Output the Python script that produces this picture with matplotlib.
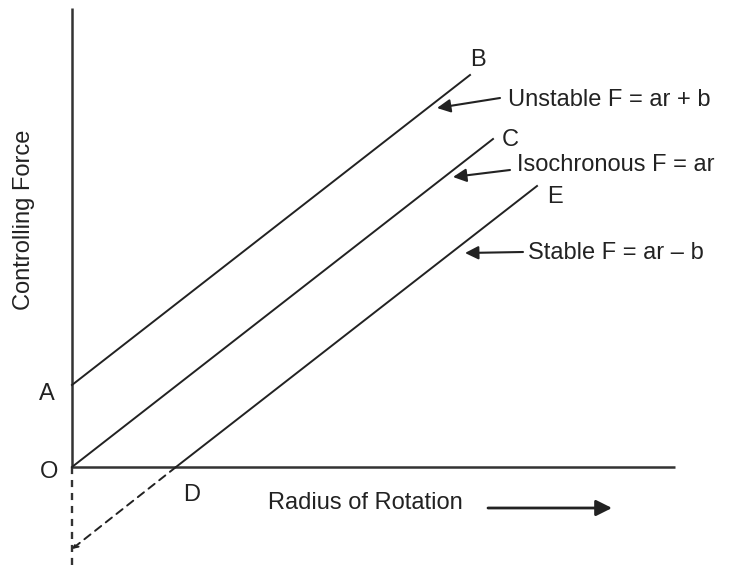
import matplotlib
matplotlib.use("Agg")
import matplotlib.pyplot as plt

plt.rcParams['font.family'] = ['Liberation Sans', 'DejaVu Sans']

# line end points (r, F), origin at O
unstable_r = [0, 398]
unstable_F = [82, 392]
iso_r = [0, 421]
iso_F = [0, 328]
stable_r = [104, 465]
stable_F = [0, 281]
stable_ext_r = [104, 0]
stable_ext_F = [0, -82]

point_names = ['B', 'C', 'E', 'A', 'O', 'D']
point_xy = [(406, 407), (438, 327), (483, 270), (-25, 73), (-23, -5), (120, -28)]

labels = ['Unstable F = ar + b', 'Isochronous F = ar', 'Stable F = ar \u2013 b']
label_xy = [(436, 367), (445, 302), (456, 214)]
arrow_tail = [(428, 369), (438, 297), (451, 215)]
arrow_tip = [(365, 359), (381, 290), (393, 214)]

fig = plt.figure(figsize=(7.32, 5.69), dpi=100)
ax = fig.add_axes([0, 0, 1, 1])
ax.set_xlim(-72, 660)
ax.set_ylim(-102, 467)
ax.axis('off')

c = '#222222'
fs = 17

# axes
ax.plot([0, 0], [0, 459], color='#333333', lw=1.8, solid_capstyle='butt')
ax.plot([0, 603], [0, 0], color='#333333', lw=1.8, solid_capstyle='butt')
ax.plot([0, 0], [0, -98], color='#333333', lw=1.7, ls=(0, (3, 2.5)))

# characteristic lines
ax.plot(unstable_r, unstable_F, color=c, lw=1.4)
ax.plot(iso_r, iso_F, color=c, lw=1.4)
ax.plot(stable_r, stable_F, color=c, lw=1.4)
ax.annotate('', xy=(stable_ext_r[1], stable_ext_F[1]), xytext=(stable_ext_r[0], stable_ext_F[0]),
            arrowprops=dict(arrowstyle='->', color=c, lw=1.4, ls=(0, (4, 3)),
                            mutation_scale=8, shrinkA=0, shrinkB=0))

for name, (x, y) in zip(point_names, point_xy):
    ax.text(x, y, name, fontsize=fs, color=c, ha='center', va='center')

for lab, (x, y), t, h in zip(labels, label_xy, arrow_tail, arrow_tip):
    ax.text(x, y, lab, fontsize=fs, color=c, ha='left', va='center')
    ax.annotate('', xy=h, xytext=t,
                arrowprops=dict(arrowstyle='-|>', color=c, lw=1.5, mutation_scale=20,
                                shrinkA=0, shrinkB=0))

ax.text(-48, 247, 'Controlling Force', fontsize=fs, color=c, rotation=90,
        ha='center', va='center')
ax.text(196, -36, 'Radius of Rotation', fontsize=fs, color=c, ha='left', va='center')
ax.annotate('', xy=(540, -41), xytext=(416, -41),
            arrowprops=dict(arrowstyle='-|>', color=c, lw=2, mutation_scale=24,
                            shrinkA=0, shrinkB=0))

fig.savefig('out.png', dpi=100, facecolor='white')
